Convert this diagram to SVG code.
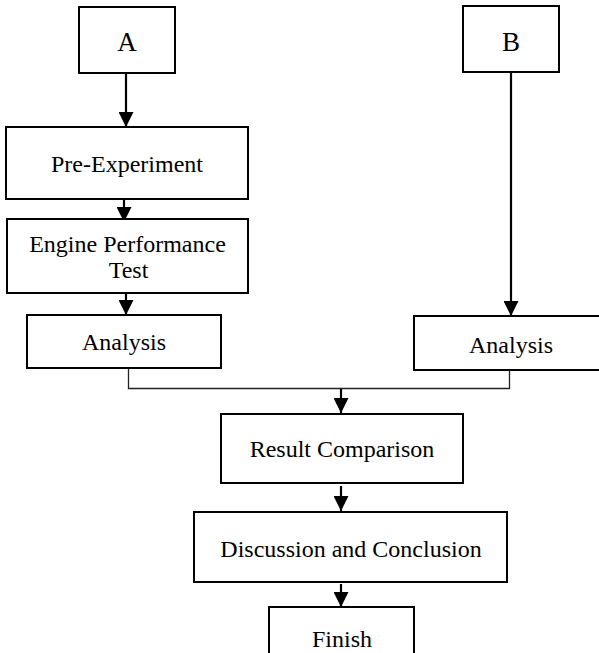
<svg xmlns="http://www.w3.org/2000/svg" width="599" height="653" viewBox="0 0 599 653">
<style>
.box{fill:#fff;stroke:#000;stroke-width:2}
.t{font-family:"Liberation Serif","Times New Roman",serif;font-size:24px;fill:#000;text-anchor:middle}
.big{font-size:27px}
.arr{stroke:#000;stroke-width:2.2;fill:none}
.thin{stroke:#222;stroke-width:1.3;fill:none}
</style>
<defs>
<marker id="ah" viewBox="0 0 15 15" refX="15" refY="7.5" markerWidth="15" markerHeight="15" markerUnits="userSpaceOnUse" orient="auto">
<path d="M0,0 L15,7.5 L0,15 z" fill="#000"/>
</marker>
</defs>
<g id="connectors">
<line class="arr" x1="126" y1="73" x2="126" y2="127" marker-end="url(#ah)"/>
<line class="arr" x1="124" y1="199" x2="124" y2="222" marker-end="url(#ah)"/>
<line class="arr" x1="126" y1="293" x2="126" y2="315" marker-end="url(#ah)"/>
<line class="arr" x1="511" y1="72" x2="511" y2="316" marker-end="url(#ah)"/>
<polyline class="thin" points="128.5,368 128.5,388.5 509.5,388.5 509.5,370"/>
<line class="arr" x1="341" y1="389" x2="341" y2="413" marker-end="url(#ah)"/>
<line class="arr" x1="341" y1="486" x2="341" y2="511" marker-end="url(#ah)"/>
<line class="arr" x1="341" y1="584" x2="341" y2="607" marker-end="url(#ah)"/>
</g>
<g id="nodeA"><rect class="box" x="79" y="7" width="96" height="66"/><text class="t big" x="127" y="51">A</text></g>
<g id="nodeB"><rect class="box" x="463" y="6" width="96" height="66"/><text class="t big" x="511" y="51">B</text></g>
<g id="preexp"><rect class="box" x="6" y="127" width="242" height="72"/><text class="t" x="127" y="172">Pre-Experiment</text></g>
<g id="engine"><rect class="box" x="7" y="219" width="241" height="74"/><text class="t" x="127.5" y="252">Engine Performance</text><text class="t" x="128.5" y="278">Test</text></g>
<g id="analysisA"><rect class="box" x="27" y="315" width="194" height="53"/><text class="t" x="124" y="350">Analysis</text></g>
<g id="analysisB"><rect class="box" x="414" y="316" width="200" height="54"/><text class="t" x="511" y="353">Analysis</text></g>
<g id="result"><rect class="box" x="221" y="414" width="242" height="69"/><text class="t" x="342" y="457">Result Comparison</text></g>
<g id="discussion"><rect class="box" x="194" y="512" width="313" height="70"/><text class="t" x="351" y="557">Discussion and Conclusion</text></g>
<g id="finish"><rect class="box" x="269" y="607" width="145" height="60"/><text class="t" x="342" y="647">Finish</text></g>
</svg>
